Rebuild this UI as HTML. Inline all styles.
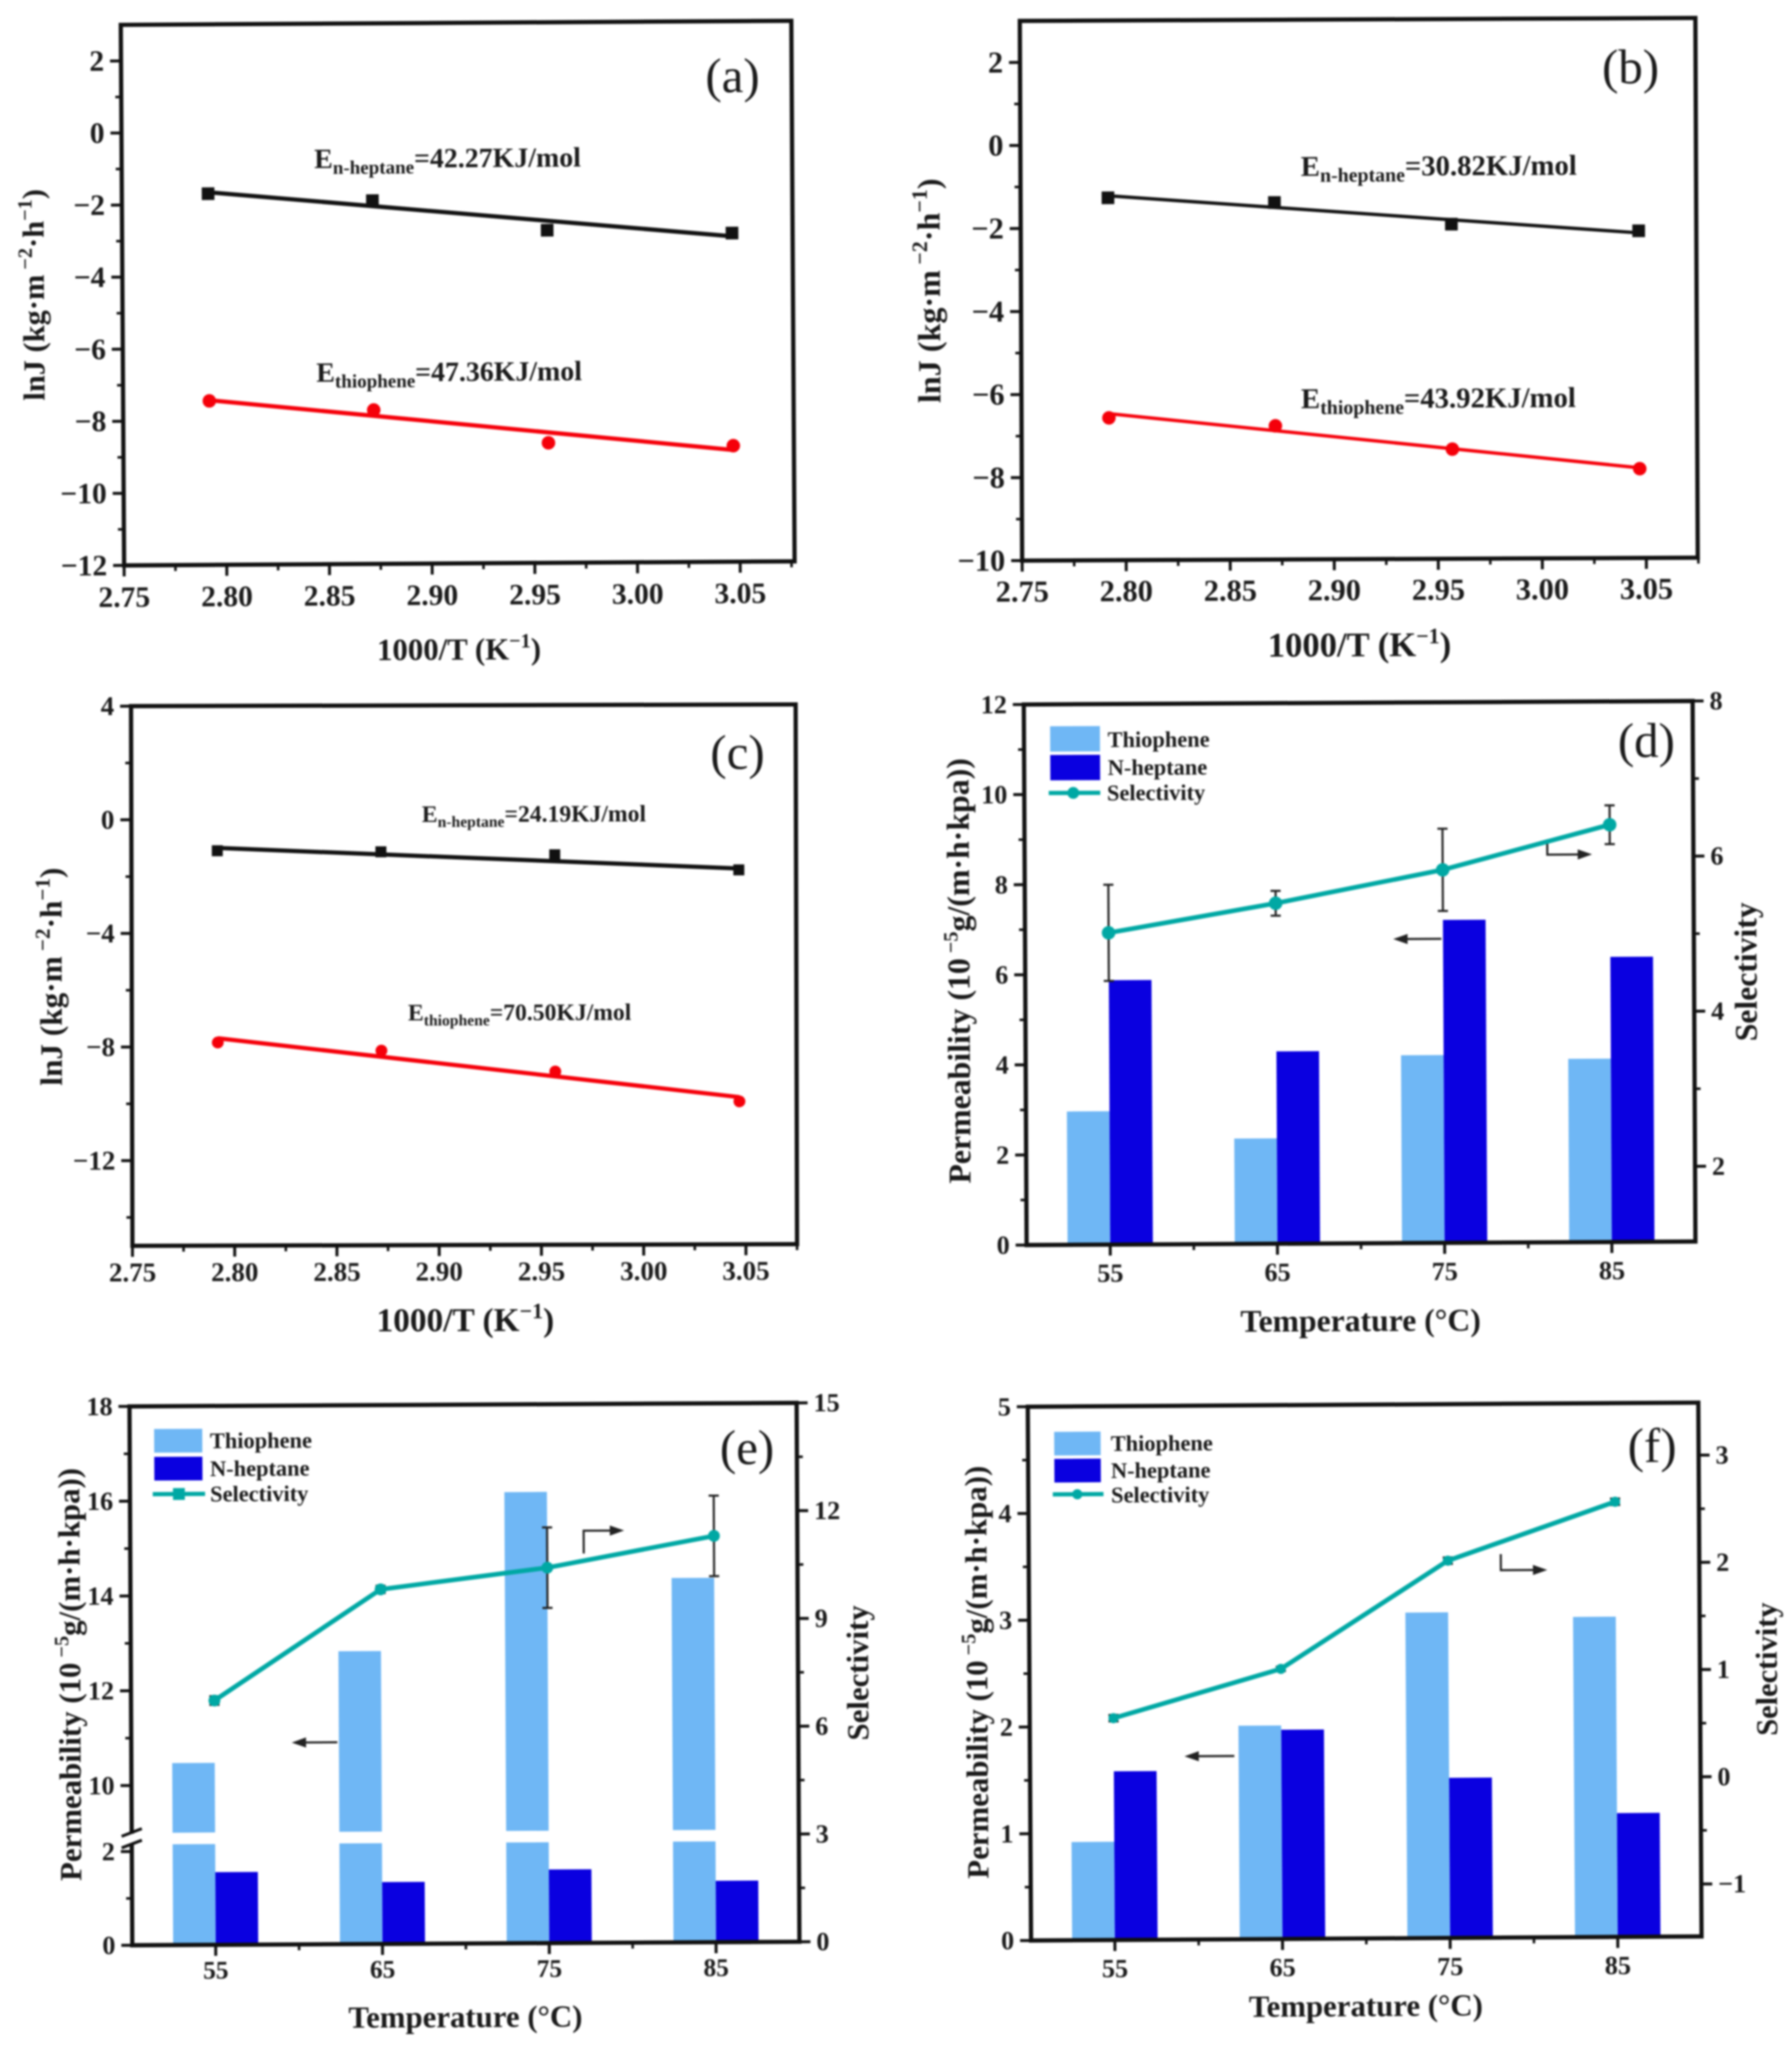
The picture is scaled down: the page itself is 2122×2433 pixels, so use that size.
<!DOCTYPE html>
<html lang="en">
<head>
<meta charset="utf-8">
<title>Membrane permeation charts (a)-(f)</title>
<style>
html,body{margin:0;padding:0;background:#fff;}
body{width:2122px;height:2433px;overflow:hidden;}
#figure{display:block;filter:blur(1px);}
text{font-family:"Liberation Serif",serif;fill:#1a1a1a;}
.b{font-weight:700;}
.title{font-weight:700;text-anchor:middle;}
.letter{font-weight:400;text-anchor:middle;font-size:58px;}
.leg{font-weight:700;font-size:26.5px;}
.arrow{fill:none;stroke:#222;stroke-width:2.5;}
</style>
</head>
<body>
<svg id="figure" xmlns="http://www.w3.org/2000/svg" width="2122" height="2433" viewBox="0 0 2122 2433">
<rect x="0" y="0" width="2122" height="2433" fill="#fff"/>

<g id="panel-a" transform="rotate(-0.35 544 349)">
  <text class="letter" x="869" y="111">(a)</text>
  <text class="title" x="541" y="781" font-size="36.5">1000/T (K<tspan dy="-14" font-size="24">−1</tspan><tspan dy="14">)</tspan></text>
  <text class="title" transform="translate(52 346) rotate(-90)" font-size="36">lnJ (kg·m<tspan dy="-14" font-size="24"> −2</tspan><tspan dy="14">·h</tspan><tspan dy="-14" font-size="24">−1</tspan><tspan dy="14">)</tspan></text>
  <text class="b" x="373" y="198" font-size="33">E<tspan dy="7" font-size="22.5">n-heptane</tspan><tspan dy="-7">=42.27KJ/mol</tspan></text>
  <text class="b" x="374" y="451" font-size="33">E<tspan dy="7" font-size="22.5">thiophene</tspan><tspan dy="-7">=47.36KJ/mol</tspan></text>
</g>

<g id="panel-b" transform="rotate(-0.25 1611 345)">
  <text class="letter" x="1932" y="100">(b)</text>
  <text class="title" x="1608" y="777" font-size="41">1000/T (K<tspan dy="-15" font-size="26">−1</tspan><tspan dy="15">)</tspan></text>
  <text class="title" transform="translate(1113 342) rotate(-90)" font-size="38">lnJ (kg·m<tspan dy="-15" font-size="26"> −2</tspan><tspan dy="15">·h</tspan><tspan dy="-15" font-size="26">−1</tspan><tspan dy="15">)</tspan></text>
  <text class="b" x="1541" y="208" font-size="34">E<tspan dy="7" font-size="23.5">n-heptane</tspan><tspan dy="-7">=30.82KJ/mol</tspan></text>
  <text class="b" x="1540" y="483" font-size="34">E<tspan dy="7" font-size="23.5">thiophene</tspan><tspan dy="-7">=43.92KJ/mol</tspan></text>
</g>

<g id="panel-c" transform="rotate(-0.15 551 1156)">
  <text class="letter" x="874" y="911">(c)</text>
  <text class="title" x="550" y="1576" font-size="39.5">1000/T (K<tspan dy="-15" font-size="26">−1</tspan><tspan dy="15">)</tspan></text>
  <text class="title" transform="translate(73 1155) rotate(-90)" font-size="37">lnJ (kg·m<tspan dy="-14" font-size="25"> −2</tspan><tspan dy="14">·h</tspan><tspan dy="-14" font-size="25">−1</tspan><tspan dy="14">)</tspan></text>
  <text class="b" x="500" y="973" font-size="28">E<tspan dy="6" font-size="18.5">n-heptane</tspan><tspan dy="-6">=24.19KJ/mol</tspan></text>
  <text class="b" x="483" y="1208" font-size="28">E<tspan dy="6" font-size="18.5">thiophene</tspan><tspan dy="-6">=70.50KJ/mol</tspan></text>
</g>

<g id="panel-d" transform="rotate(-0.3 1610 1154)">
  <text class="letter" x="1951" y="898">(d)</text>
  <text class="title" x="1609" y="1576" font-size="37.5">Temperature (°C)</text>
  <text class="title" transform="translate(1148 1147) rotate(-90)" font-size="37.7">Permeability (10<tspan dy="-14" font-size="24"> −5</tspan><tspan dy="14">g/(m·h·kpa))</tspan></text>
  <text class="title" transform="translate(2080 1153) rotate(-90)" font-size="37.5">Selectivity</text>
  <rect x="1245" y="858" width="59" height="30" fill="#6fb7f5"/>
  <rect x="1245" y="892" width="59" height="30" fill="#0a00e0"/>
  <line x1="1243" y1="937" x2="1304" y2="937" stroke="#00a8a4" stroke-width="5"/>
  <circle cx="1272" cy="937" r="7" fill="#00a8a4"/>
  <text class="leg" x="1313" y="883">Thiophene</text>
  <text class="leg" x="1313" y="916">N-heptane</text>
  <text class="leg" x="1312" y="946">Selectivity</text>
  <path class="arrow" d="M1707 1112H1664"/>
  <path d="M1650 1112l17-6v12z" fill="#222"/>
  <path class="arrow" d="M1833 995V1013H1875"/>
  <path d="M1886 1013l-17-6v12z" fill="#222"/>
</g>

<g id="panel-e" transform="rotate(-0.3 552 1984)">
  <text class="letter" x="886" y="1735">(e)</text>
  <text class="title" x="549" y="2400" font-size="36.5">Temperature (°C)</text>
  <text class="title" transform="translate(95 1980) rotate(-90)" font-size="36.5">Permeability (10<tspan dy="-14" font-size="24"> −5</tspan><tspan dy="14">g/(m·h·kpa))</tspan></text>
  <text class="title" transform="translate(1028 1983) rotate(-90)" font-size="36.5">Selectivity</text>
  <rect x="184" y="1690" width="57" height="28" fill="#6fb7f5"/>
  <rect x="184" y="1723" width="57" height="28" fill="#0a00e0"/>
  <line x1="182" y1="1767" x2="244" y2="1767" stroke="#00a8a4" stroke-width="5"/>
  <rect x="206" y="1760" width="14" height="14" fill="#00a8a4"/>
  <text class="leg" x="250" y="1713">Thiophene</text>
  <text class="leg" x="250" y="1746">N-heptane</text>
  <text class="leg" x="250" y="1776">Selectivity</text>
  <path class="arrow" d="M399 2062H358"/>
  <path d="M345 2062l17-6v12z" fill="#222"/>
  <path class="arrow" d="M692 1840V1813H729"/>
  <path d="M740 1813l-17-6v12z" fill="#222"/>
</g>

<g id="panel-f" transform="rotate(-0.35 1620 1982)">
  <text class="letter" x="1958" y="1733">(f)</text>
  <text class="title" x="1615" y="2387" font-size="36.5">Temperature (°C)</text>
  <text class="title" transform="translate(1169 1977) rotate(-90)" font-size="36.5">Permeability (10<tspan dy="-14" font-size="24"> −5</tspan><tspan dy="14">g/(m·h·kpa))</tspan></text>
  <text class="title" transform="translate(2104 1979) rotate(-90)" font-size="36">Selectivity</text>
  <rect x="1250" y="1693" width="55" height="28" fill="#6fb7f5"/>
  <rect x="1250" y="1725" width="55" height="28" fill="#0a00e0"/>
  <line x1="1248" y1="1767" x2="1308" y2="1767" stroke="#00a8a4" stroke-width="5"/>
  <circle cx="1277" cy="1767" r="6" fill="#00a8a4"/>
  <text class="leg" x="1317" y="1716">Thiophene</text>
  <text class="leg" x="1317" y="1748">N-heptane</text>
  <text class="leg" x="1317" y="1777">Selectivity</text>
  <path class="arrow" d="M1461 2078H1415"/>
  <path d="M1402 2078l17-6v12z" fill="#222"/>
  <path class="arrow" d="M1778 1841V1860H1822"/>
  <path d="M1833 1860l-17-6v12z" fill="#222"/>
</g>
</svg>

<script>
// ---------- shared tick data ----------
const inverseTemperature = [2.792, 2.872, 2.957, 3.047];
const fitEndpoints = [2.792, 3.047];
const inverseTempTicks = [2.75, 2.80, 2.85, 2.90, 2.95, 3.00, 3.05];
const inverseTempMinorTicks = [2.775, 2.825, 2.875, 2.925, 2.975, 3.025, 3.075];
const temperatures = [55, 65, 75, 85];
const temperatureMinorTicks = [60, 70, 80];

// ---------- panel (a) ----------
const aHeptaneFlux = [-1.7, -1.92, -2.77, -2.88];
const aHeptaneFit = [-1.66, -2.97];
const aThiopheneFlux = [-7.45, -7.73, -8.67, -8.78];
const aThiopheneFit = [-7.43, -8.9];
const aYTicks = [-12, -10, -8, -6, -4, -2, 0, 2];
const aYMinorTicks = [-11, -9, -7, -5, -3, -1, 1];

// ---------- panel (b) ----------
const bHeptaneFlux = [-1.27, -1.4, -1.94, -2.12];
const bHeptaneFit = [-1.22, -2.17];
const bThiopheneFlux = [-6.57, -6.78, -7.36, -7.85];
const bThiopheneFit = [-6.47, -7.83];
const bYTicks = [-10, -8, -6, -4, -2, 0, 2];
const bYMinorTicks = [-9, -7, -5, -3, -1, 1];

// ---------- panel (c) ----------
const cHeptaneFlux = [-1.1, -1.15, -1.27, -1.82];
const cHeptaneFit = [-1.0, -1.77];
const cThiopheneFlux = [-7.85, -8.15, -8.9, -9.97];
const cThiopheneFit = [-7.7, -9.82];
const cYTicks = [-12, -8, -4, 0, 4];
const cYMinorTicks = [-14, -10, -6, -2, 2];

// ---------- panel (d) ----------
const dThiophene = [2.96, 2.34, 4.17, 4.07];
const dHeptane = [5.87, 4.27, 7.17, 6.33];
const dSelectivity = [5.05, 5.42, 5.84, 6.41];
const dSelectivityError = [0.62, 0.16, 0.53, 0.25];
const dLeftTicks = [0, 2, 4, 6, 8, 10, 12];
const dLeftMinorTicks = [1, 3, 5, 7, 9, 11];
const dRightTicks = [2, 4, 6, 8];
const dRightMinorTicks = [3, 5, 7];

// ---------- panel (e) ----------
const eThiophene = [10.47, 12.81, 16.15, 14.32];
const eHeptane = [1.55, 1.32, 1.57, 1.31];
const eSelectivity = [6.8, 9.87, 10.45, 11.31];
const eSelectivityError = [0.12, 0.1, 1.12, 1.12];
const eLeftLowerTicks = [0, 2];
const eLeftLowerMinorTicks = [1];
const eLeftUpperTicks = [10, 12, 14, 16, 18];
const eLeftUpperMinorTicks = [11, 13, 15, 17];
const eRightTicks = [0, 3, 6, 9, 12, 15];
const eRightMinorTicks = [1.5, 4.5, 7.5, 10.5, 13.5];

// ---------- panel (f) ----------
const fThiophene = [0.92, 2.0, 3.05, 3.0];
const fHeptane = [1.58, 1.96, 1.5, 1.16];
const fSelectivity = [0.58, 1.03, 2.03, 2.57];
const fSelectivityError = [0.03, 0.02, 0.03, 0.03];
const fLeftTicks = [0, 1, 2, 3, 4, 5];
const fLeftMinorTicks = [0.5, 1.5, 2.5, 3.5, 4.5];
const fRightTicks = [-1, 0, 1, 2, 3];
const fRightMinorTicks = [-0.5, 0.5, 1.5, 2.5];

// ---------- helpers ----------
const SVGNS = 'http://www.w3.org/2000/svg';
const COLORS = {thiophene: '#6fb7f5', heptane: '#0a00e0', selectivity: '#00a8a4', black: '#111', red: '#f5000a', axis: '#111'};
const BAR_HALF_SPAN = 2.55;

function mk(tag, attrs, parent) {
  const el = document.createElementNS(SVGNS, tag);
  for (const k in attrs) el.setAttribute(k, attrs[k]);
  parent.appendChild(el);
  return el;
}
function linearScale(d0, d1, r0, r1) {
  return v => r0 + (v - d0) * (r1 - r0) / (d1 - d0);
}
function formatTick(v, digits) {
  const s = Math.abs(v).toFixed(digits);
  return v < 0 ? '\u2212' + s : s;
}
function drawFrame(g, box) {
  const el = mk('rect', {x: box.left, y: box.top, width: box.right - box.left, height: box.bottom - box.top, fill: 'none', stroke: COLORS.axis, 'stroke-width': 5}, g);
  
  
}
function drawXTicks(g, scale, y, ticks, minors, digits, fontSize, labelOffset) {
  ticks.forEach(t => {
    const tick = mk('line', {x1: scale(t), x2: scale(t), y1: y, y2: y + 13, stroke: COLORS.axis, 'stroke-width': 3.5}, g);
    
    
    const label = mk('text', {x: scale(t), y: y + labelOffset, 'font-size': fontSize, 'font-weight': 700, 'text-anchor': 'middle'}, g);
    label.textContent = t.toFixed(digits);
    
    
  });
  minors.forEach(t => {
    const tick = mk('line', {x1: scale(t), x2: scale(t), y1: y, y2: y + 7, stroke: COLORS.axis, 'stroke-width': 3}, g);
    
    
  });
}
function drawYTicks(g, scale, x, side, ticks, minors, fontSize) {
  const dir = side === 'left' ? -1 : 1;
  ticks.forEach(t => {
    const tick = mk('line', {x1: x, x2: x + dir * 13, y1: scale(t), y2: scale(t), stroke: COLORS.axis, 'stroke-width': 3.5}, g);
    
    
    const label = mk('text', {x: x + dir * 20, y: scale(t) + fontSize * 0.33, 'font-size': fontSize, 'font-weight': 700, 'text-anchor': side === 'left' ? 'end' : 'start'}, g);
    label.textContent = formatTick(t, 0);
    
    
  });
  minors.forEach(t => {
    const tick = mk('line', {x1: x, x2: x + dir * 7, y1: scale(t), y2: scale(t), stroke: COLORS.axis, 'stroke-width': 3}, g);
    
    
  });
}
function drawFitLine(g, xs, ys, x, y, color, width) {
  const line = mk('line', {x1: x(xs[0]), y1: y(ys[0]), x2: x(xs[1]), y2: y(ys[1]), stroke: color, 'stroke-width': width}, g);
  
  
}
function drawSquares(g, xs, ys, x, y, size) {
  xs.forEach((v, i) => {
    const s = mk('rect', {x: x(v) - size / 2, y: y(ys[i]) - size / 2, width: size, height: size, fill: COLORS.black}, g);
    
    
  });
}
function drawCircles(g, xs, ys, x, y, r) {
  xs.forEach((v, i) => {
    const c = mk('circle', {cx: x(v), cy: y(ys[i]), r: r, fill: COLORS.red}, g);
    
    
  });
}
function drawBars(g, xs, values, x, y0, y, offsetFrom, offsetTo, color, name) {
  xs.forEach((t, i) => {
    const top = y(values[i]);
    const bar = mk('rect', {x: x(t + offsetFrom), y: top, width: x(t + offsetTo) - x(t + offsetFrom), height: y0 - top, fill: color}, g);
    
    
  });
}
function drawSelectivity(g, xs, values, errors, x, y, markerR) {
  xs.forEach((t, i) => {
    const cx = x(t);
    const yHi = y(values[i] + errors[i]);
    const yLo = y(values[i] - errors[i]);
    const stem = mk('line', {x1: cx, x2: cx, y1: yHi, y2: yLo, stroke: '#222', 'stroke-width': 2.5}, g);
    
    
    [yHi, yLo].forEach(cy => {
      const cap = mk('line', {x1: cx - 6, x2: cx + 6, y1: cy, y2: cy, stroke: '#222', 'stroke-width': 2.5}, g);
      
      
    });
  });
  const pts = xs.map((t, i) => x(t) + ',' + y(values[i])).join(' ');
  const line = mk('polyline', {points: pts, fill: 'none', stroke: COLORS.selectivity, 'stroke-width': 5.5}, g);
  
  
  xs.forEach((t, i) => {
    const m = mk('circle', {cx: x(t), cy: y(values[i]), r: markerR, fill: COLORS.selectivity}, g);
    
    
  });
}

// ---------- panels (a)-(c): Arrhenius plots ----------
function arrhenius(id, box, xMax, yMin, yMax, yTicks, yMinor, heptane, heptaneFit, thiophene, thiopheneFit, fs, offs, lw, sq, r) {
  const g = document.getElementById(id);
  const x = linearScale(2.75, xMax, box.left, box.right);
  const y = linearScale(yMin, yMax, box.bottom, box.top);
  drawFrame(g, box);
  drawXTicks(g, x, box.bottom, inverseTempTicks, inverseTempMinorTicks, 2, fs, offs);
  drawYTicks(g, y, box.left, 'left', yTicks, yMinor, fs);
  drawSquares(g, inverseTemperature, heptane, x, y, sq);
  drawFitLine(g, fitEndpoints, heptaneFit, x, y, COLORS.black, lw);
  drawCircles(g, inverseTemperature, thiophene, x, y, r);
  drawFitLine(g, fitEndpoints, thiopheneFit, x, y, COLORS.red, lw);
}
arrhenius('panel-a', {left: 145, right: 939, top: 27, bottom: 667}, 3.0765, -12, 3, aYTicks, aYMinorTicks, aHeptaneFlux, aHeptaneFit, aThiopheneFlux, aThiopheneFit, 35, 49, 5, 15, 8);
arrhenius('panel-b', {left: 1209, right: 2009, top: 23, bottom: 662}, 3.0747, -10, 3, bYTicks, bYMinorTicks, bHeptaneFlux, bHeptaneFit, bThiopheneFlux, bThiopheneFit, 36, 48.5, 4, 15, 8);
arrhenius('panel-c', {left: 156, right: 943, top: 835, bottom: 1474}, 3.075, -15, 4, cYTicks, cYMinorTicks, cHeptaneFlux, cHeptaneFit, cThiopheneFlux, cThiopheneFit, 32, 42, 5, 13, 7);

// ---------- panels (d),(f): bar + line ----------
function barPanel(id, box, leftMax, rMin, rMax, leftTicks, leftMinor, rightTicks, rightMinor, thiophene, heptane, sel, err, fs, offs, markerR) {
  const g = document.getElementById(id);
  const x = linearScale(50, 90, box.left, box.right);
  const yL = linearScale(0, leftMax, box.bottom, box.top);
  const yR = linearScale(rMin, rMax, box.bottom, box.top);
  drawBars(g, temperatures, thiophene, x, box.bottom, yL, -BAR_HALF_SPAN, 0, COLORS.thiophene, 'thiophene-bar');
  drawBars(g, temperatures, heptane, x, box.bottom, yL, 0, BAR_HALF_SPAN, COLORS.heptane, 'heptane-bar');
  drawFrame(g, box);
  drawXTicks(g, x, box.bottom, temperatures, temperatureMinorTicks, 0, fs, offs);
  drawYTicks(g, yL, box.left, 'left', leftTicks, leftMinor, fs);
  drawYTicks(g, yR, box.right, 'right', rightTicks, rightMinor, fs);
  drawSelectivity(g, temperatures, sel, err, x, yR, markerR);
}
barPanel('panel-d', {left: 1214, right: 2006, top: 832, bottom: 1472}, 12, 1.03, 8, dLeftTicks, dLeftMinorTicks, dRightTicks, dRightMinorTicks, dThiophene, dHeptane, dSelectivity, dSelectivityError, 31, 44, 8);
barPanel('panel-f', {left: 1219, right: 2013, top: 1663, bottom: 2295}, 5, -1.489, 3.49, fLeftTicks, fLeftMinorTicks, fRightTicks, fRightMinorTicks, fThiophene, fHeptane, fSelectivity, fSelectivityError, 31, 44, 6);

// ---------- panel (e): broken left axis ----------
(function () {
  const g = document.getElementById('panel-e');
  const box = {left: 155, right: 945, top: 1663, bottom: 2301};
  const x = linearScale(50, 90, box.left, box.right);
  const lowerBreak = 2.15;
  const upperBreak = 9;
  const yLow = linearScale(0, 2, box.bottom, 2190);
  const yUp = linearScale(upperBreak, 18, 2168, box.top);
  const yR = linearScale(0, 15, box.bottom, box.top);
  const gapTop = yUp(upperBreak);
  const gapBottom = yLow(lowerBreak);

  temperatures.forEach((t, i) => {
    const barLeft = x(t - BAR_HALF_SPAN);
    const barWidth = x(t) - barLeft;
    const lower = mk('rect', {x: barLeft, y: gapBottom, width: barWidth, height: box.bottom - gapBottom, fill: COLORS.thiophene}, g);
    
    
    const top = yUp(eThiophene[i]);
    const upper = mk('rect', {x: barLeft, y: top, width: barWidth, height: gapTop - top, fill: COLORS.thiophene}, g);
    
    
  });
  drawBars(g, temperatures, eHeptane, x, box.bottom, yLow, 0, BAR_HALF_SPAN, COLORS.heptane, 'heptane-bar');
  drawFrame(g, box);
  drawXTicks(g, x, box.bottom, temperatures, temperatureMinorTicks, 0, 30, 40);
  drawYTicks(g, yLow, box.left, 'left', eLeftLowerTicks, eLeftLowerMinorTicks, 31);
  drawYTicks(g, yUp, box.left, 'left', eLeftUpperTicks, eLeftUpperMinorTicks, 31);
  drawYTicks(g, yR, box.right, 'right', eRightTicks, eRightMinorTicks, 31);

  const gap = mk('rect', {x: box.left - 4, y: gapTop + 1, width: 8, height: gapBottom - gapTop - 2, fill: '#fff'}, g);
  
  
  [gapTop, gapBottom].forEach(cy => {
    const slash = mk('line', {x1: box.left - 12, y1: cy + 4, x2: box.left + 12, y2: cy - 5, stroke: COLORS.axis, 'stroke-width': 3.5}, g);
    
    
  });
  drawSelectivity(g, temperatures, eSelectivity, eSelectivityError, x, yR, 7);
})();
</script>
</body>
</html>
